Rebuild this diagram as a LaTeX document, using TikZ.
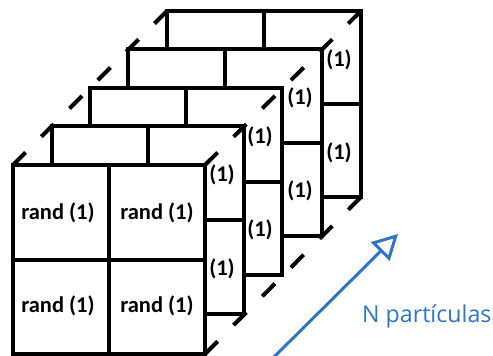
\documentclass[tikz,border=0pt]{standalone}
\usepackage{fontspec}
\setmainfont{Carlito}
\newfontfamily\labelfont{Open Sans}
\usetikzlibrary{arrows.meta,calc}
\definecolor{pblue}{RGB}{46,117,195}

\begin{document}
\begin{tikzpicture}[x=1pt,y=-1pt,
  layer/.style={line width=4pt, draw=black, fill=white, line join=miter},
  gridline/.style={line width=4pt, draw=black},
  depthdash/.style={line width=4pt, draw=black, line cap=butt},
  cell/.style={font=\fontsize{22.5}{26}\selectfont\bfseries, inner sep=0pt},
  axislabel/.style={text=pblue, font=\labelfont\fontsize{23.2}{27}\selectfont, inner sep=0pt, anchor=base west}]
\useasboundingbox (0,0) rectangle (493,356);

% stacked 2x2 matrices, drawn from the back to the front
\foreach \k/\L/\T/\R/\B in {4/167/11/361/197, 3/128/49/322/236, 2/90/88/282/275, 1/52/126/244/314, 0/13/165/205/354} {
  \coordinate (tl\k) at (\L,\T);
  \coordinate (tr\k) at (\R,\T);
  \coordinate (br\k) at (\R,\B);
  \coordinate (bl\k) at (\L,\B);
  \filldraw[layer] (tl\k) rectangle (br\k);
  \draw[gridline] ($(tl\k)!0.5!(tr\k)$) -- ($(bl\k)!0.5!(br\k)$);
  \draw[gridline] ($(tl\k)!0.5!(bl\k)$) -- ($(tr\k)!0.5!(br\k)$);
  \ifnum\k>0
    \pgfmathsetmacro\cx{\R-22}
    \pgfmathsetmacro\ya{(\T+(\T+\B)/2)/2+2}
    \pgfmathsetmacro\yb{((\T+\B)/2+\B)/2+2}
    \node[cell] (up\k) at (\cx,\ya) {(1)};
    \node[cell] (lo\k) at (\cx,\yb) {(1)};
  \fi
}

% cells of the front matrix
\node[cell] (r11) at (58,213) {rand (1)};
\node[cell] (r12) at (157,213) {rand (1)};
\node[cell] (r21) at (58,306) {rand (1)};
\node[cell] (r22) at (157,306) {rand (1)};

% dashed depth edges joining the corners
\foreach \a/\b in {tl0/tl4, tr0/tr4, br0/br4} {
  \foreach \i in {0,...,5} {
    \pgfmathsetmacro\ta{\i*0.1837}
    \pgfmathsetmacro\tb{\i*0.1837+0.0813}
    \draw[depthdash] ($(\a)!\ta!(\b)$) -- ($(\a)!\tb!(\b)$);
  }
}

% particle axis
\coordinate (arrS) at (274,357);
\coordinate (arrE) at (398,234);
\draw[pblue, line width=3pt, -{Triangle[open,length=25pt,width=26pt]}] (arrS) -- (arrE);
\node[axislabel] (np) at (362,322) {N partículas};
\end{tikzpicture}
\end{document}
